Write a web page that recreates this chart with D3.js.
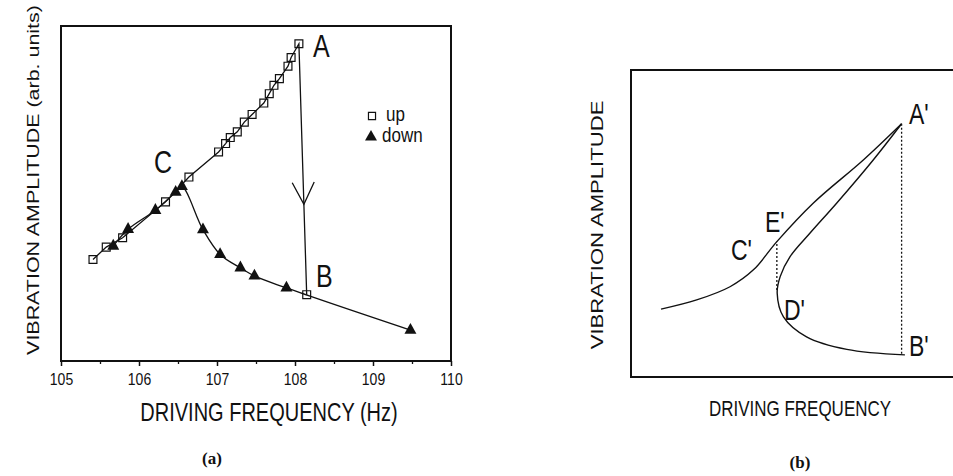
<!DOCTYPE html>
<html>
<head>
<meta charset="utf-8">
<script src="https://cdn.jsdelivr.net/npm/d3@7"></script>
<style>
  body { margin: 0; background: #fff; }
  svg { display: block; }
  text { font-family: "Liberation Sans", Arial, sans-serif; fill: #111; }
</style>
</head>
<body>
<div id="chart"></div>
<script>
// (a) measured sweep, frequency in Hz, amplitude in arb. units (0-10)
var upFreq = [105.41, 105.58, 105.79, 106.34, 106.64, 107.02, 107.11, 107.17, 107.26, 107.35,
              107.45, 107.60, 107.67, 107.73, 107.80, 107.91, 107.95, 108.05, 108.15];
var upAmp  = [3.03, 3.40, 3.68, 4.75, 5.49, 6.24, 6.49, 6.67, 6.84, 7.13,
              7.36, 7.70, 7.98, 8.23, 8.43, 8.80, 9.06, 9.47, 1.98];
var downFreq = [109.48, 107.89, 107.48, 107.30, 107.04, 106.82, 106.55, 106.47, 106.21, 105.86, 105.67];
var downAmp  = [0.92, 2.18, 2.54, 2.78, 3.18, 3.92, 5.21, 5.04, 4.50, 3.93, 3.43];
var freqTicks = [105, 106, 107, 108, 109, 110];
var minorTicks = [105.5, 106.5, 107.5, 108.5, 109.5];

// (b) schematic response curve, arbitrary units (0-10)
var upperX = [0.91, 1.99, 3.00, 3.71, 4.42, 5.52, 7.04, 8.20];
var upperY = [2.21, 2.51, 2.94, 3.49, 4.41, 5.66, 7.07, 8.25];
var lowerX = [8.20, 7.34, 6.23, 5.42, 4.82, 4.52, 4.43, 4.62, 5.32, 6.54, 8.30];
var lowerY = [8.25, 7.07, 5.66, 4.68, 3.92, 3.27, 2.73, 1.96, 1.31, 0.90, 0.72];
var jumpDownX = [8.20, 8.20];   // A' -> B'
var jumpDownY = [8.25, 0.72];
var jumpUpX = [4.42, 4.42];     // D' -> E'
var jumpUpY = [2.83, 4.41];

var width = 953, height = 476;
var svg = d3.select("#chart").append("svg")
    .attr("width", width)
    .attr("height", height);

function stretchText(g, x, y, str, size, sy, anchor) {
    return g.append("text")
        .attr("transform", "translate(" + x + "," + y + ") scale(1," + sy + ")")
        .attr("text-anchor", anchor || "start")
        .style("font-size", size + "px")
        .text(str);
}

// ---------------- panel (a) ----------------
var xA = d3.scaleLinear().domain([105, 110]).range([61, 451]);
var yA = d3.scaleLinear().domain([0, 10]).range([361, 26]);
var gA = svg.append("g");

gA.append("g")
    .attr("transform", "translate(0," + yA(0) + ")")
    .call(d3.axisBottom(xA).tickValues(minorTicks).tickSize(3).tickFormat(""))
    .call(function (g) { g.select(".domain").remove(); })
    .selectAll("line").attr("stroke", "#111").attr("stroke-width", 1.3);

var xAxisA = gA.append("g")
    .attr("transform", "translate(0," + yA(0) + ")")
    .call(d3.axisBottom(xA).tickValues(freqTicks).tickSize(5).tickPadding(9).tickFormat(d3.format("d")));
xAxisA.select(".domain").remove();
xAxisA.selectAll("line").attr("stroke", "#111").attr("stroke-width", 1.5);
xAxisA.selectAll("text")
    .style("font-size", "14px")
    .style("font-family", "'Liberation Sans', Arial, sans-serif")
    .attr("fill", "#111")
    .attr("transform", "scale(1,1.2)")
    .attr("y", 10);

gA.append("rect")
    .attr("x", xA(105)).attr("y", yA(10))
    .attr("width", xA(110) - xA(105)).attr("height", yA(0) - yA(10))
    .attr("fill", "none").attr("stroke", "#111").attr("stroke-width", 2);

var upPts = upFreq.map(function (f, i) { return [f, upAmp[i]]; });
var downPts = downFreq.map(function (f, i) { return [f, downAmp[i]]; });

var lineA = d3.line()
    .x(function (d) { return xA(d[0]); })
    .y(function (d) { return yA(d[1]); });

gA.append("path")
    .datum(upPts)
    .attr("d", lineA)
    .attr("fill", "none").attr("stroke", "#111").attr("stroke-width", 1.3);

gA.append("path")
    .datum(downPts)
    .attr("d", lineA.curve(d3.curveCatmullRom.alpha(0.5)))
    .attr("fill", "none").attr("stroke", "#111").attr("stroke-width", 1.3);

// arrow head on the jump A -> B
var pA = upPts[upPts.length - 2], pB = upPts[upPts.length - 1];
var ax = xA(pA[0]), ay = yA(pA[1]), bx = xA(pB[0]), by = yA(pB[1]);
var len = Math.hypot(bx - ax, by - ay);
var ux = (bx - ax) / len, uy = (by - ay) / len;
var tipX = ax + ux * len * 0.64, tipY = ay + uy * len * 0.64;
gA.append("path")
    .attr("d", "M" + (tipX - ux * 22 - uy * 11) + "," + (tipY - uy * 22 + ux * 11) +
        "L" + tipX + "," + tipY +
        "L" + (tipX - ux * 22 + uy * 11) + "," + (tipY - uy * 22 - ux * 11))
    .attr("fill", "none").attr("stroke", "#111").attr("stroke-width", 1.3);

var sq = d3.symbol().type(d3.symbolSquare).size(62);
var tri = d3.symbol().type(d3.symbolTriangle).size(62);

gA.selectAll(".tri")
    .data(downPts)
    .enter().append("path")
    .attr("class", "tri")
    .attr("d", tri)
    .attr("transform", function (d) { return "translate(" + xA(d[0]) + "," + yA(d[1]) + ") scale(1,1.05)"; })
    .attr("fill", "#111");

gA.selectAll(".sq")
    .data(upPts)
    .enter().append("path")
    .attr("class", "sq")
    .attr("d", sq)
    .attr("transform", function (d) { return "translate(" + xA(d[0]) + "," + yA(d[1]) + ")"; })
    .attr("fill", "none").attr("stroke", "#111").attr("stroke-width", 1.2);

// legend
gA.append("path").attr("d", d3.symbol().type(d3.symbolSquare).size(50))
    .attr("transform", "translate(372,116)")
    .attr("fill", "none").attr("stroke", "#111").attr("stroke-width", 1.2);
gA.append("path").attr("d", d3.symbol().type(d3.symbolTriangle).size(62))
    .attr("transform", "translate(371,137)")
    .attr("fill", "#111");
stretchText(gA, 386, 121, "up", 17, 1.2);
stretchText(gA, 382, 142, "down", 17, 1.2);

// point labels
stretchText(gA, 313, 57, "A", 25, 1.25);
stretchText(gA, 316, 287, "B", 25, 1.25);
stretchText(gA, 154, 173, "C", 25, 1.25);

// axis titles
stretchText(gA, 269, 421, "DRIVING  FREQUENCY (Hz)", 20, 1.3, "middle");
gA.append("text")
    .attr("transform", "translate(39,180) rotate(-90) scale(1.3,1)")
    .attr("text-anchor", "middle")
    .style("font-size", "16.5px")
    .text("VIBRATION  AMPLITUDE (arb. units)");
gA.append("text")
    .attr("x", 212).attr("y", 464)
    .attr("text-anchor", "middle")
    .style("font-family", "'Liberation Serif', 'Times New Roman', serif")
    .style("font-size", "17px")
    .style("font-weight", "bold")
    .text("(a)");

// ---------------- panel (b) ----------------
var xB = d3.scaleLinear().domain([0, 10]).range([631, 961]);
var yB = d3.scaleLinear().domain([0, 10]).range([377, 70]);
var gB = svg.append("g");

gB.append("rect")
    .attr("x", xB(0)).attr("y", yB(10))
    .attr("width", xB(10) - xB(0)).attr("height", yB(0) - yB(10))
    .attr("fill", "none").attr("stroke", "#111").attr("stroke-width", 2);

var lineB = d3.line()
    .x(function (d) { return xB(d[0]); })
    .y(function (d) { return yB(d[1]); })
    .curve(d3.curveCatmullRom.alpha(0.5));

function zipB(xs, ys) { return xs.map(function (v, i) { return [v, ys[i]]; }); }

gB.append("path").datum(zipB(upperX, upperY)).attr("d", lineB)
    .attr("fill", "none").attr("stroke", "#111").attr("stroke-width", 1.4);
gB.append("path").datum(zipB(lowerX, lowerY)).attr("d", lineB)
    .attr("fill", "none").attr("stroke", "#111").attr("stroke-width", 1.4);

var straightB = d3.line()
    .x(function (d) { return xB(d[0]); })
    .y(function (d) { return yB(d[1]); });
[zipB(jumpDownX, jumpDownY), zipB(jumpUpX, jumpUpY)].forEach(function (seg) {
    gB.append("path").datum(seg).attr("d", straightB)
        .attr("fill", "none").attr("stroke", "#111").attr("stroke-width", 1.3)
        .attr("stroke-dasharray", "2,2");
});

stretchText(gB, 909, 124, "A'", 23, 1.25);
stretchText(gB, 909, 356, "B'", 23, 1.25);
stretchText(gB, 731, 260, "C'", 23, 1.25);
stretchText(gB, 784, 320, "D'", 23, 1.25);
stretchText(gB, 765, 232, "E'", 23, 1.25);

stretchText(gB, 800, 416, "DRIVING  FREQUENCY", 17, 1.3, "middle");
gB.append("text")
    .attr("transform", "translate(603,225) rotate(-90) scale(1.3,1)")
    .attr("text-anchor", "middle")
    .style("font-size", "17px")
    .text("VIBRATION  AMPLITUDE");
gB.append("text")
    .attr("x", 800).attr("y", 468)
    .attr("text-anchor", "middle")
    .style("font-family", "'Liberation Serif', 'Times New Roman', serif")
    .style("font-size", "17px")
    .style("font-weight", "bold")
    .text("(b)");
</script>
</body>
</html>
